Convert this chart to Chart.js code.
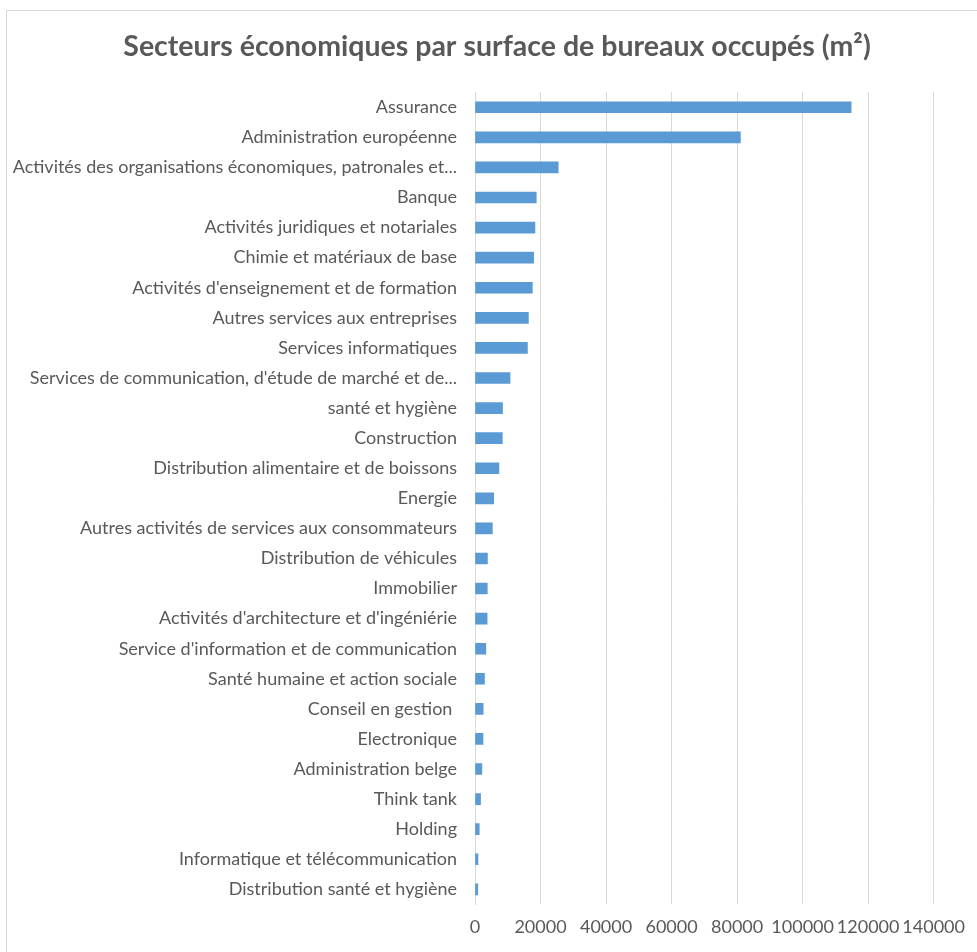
<!DOCTYPE html>
<html>
<head>
<meta charset="utf-8">
<script src="https://cdn.jsdelivr.net/npm/chart.js@4"></script>
<style>
  html, body { margin: 0; padding: 0; background: #fff; overflow: hidden; }
  #frame { position: absolute; left: 6px; top: 10px; width: 1000px; height: 1000px; border: 1px solid #d9d9d9; }
  #wrap { position: absolute; left: 0; top: 0; width: 977px; height: 952px; }
</style>
</head>
<body>
<div id="frame"></div>
<div id="wrap"><canvas id="barChart"></canvas></div>
<script>
// secteurs et surfaces (m²)
const categories = [
  'Assurance',
  'Administration européenne',
  'Activités des organisations économiques, patronales et...',
  'Banque',
  'Activités juridiques et notariales',
  'Chimie et matériaux de base',
  "Activités d'enseignement et de formation",
  'Autres services aux entreprises',
  'Services informatiques',
  "Services de communication, d'étude de marché et de...",
  'santé et hygiène',
  'Construction',
  'Distribution alimentaire et de boissons',
  'Energie',
  'Autres activités de services aux consommateurs',
  'Distribution de véhicules',
  'Immobilier',
  "Activités d'architecture et d'ingéniérie",
  "Service d'information et de communication",
  'Santé humaine et action sociale',
  'Conseil en gestion ',
  'Electronique',
  'Administration belge',
  'Think tank',
  'Holding',
  'Informatique et télécommunication',
  'Distribution santé et hygiène'
];
const surfaces = [
  114800, 81000, 25400, 18700, 18300, 17900, 17500, 16300, 16000, 10700,
  8400, 8350, 7300, 5700, 5300, 3800, 3750, 3700, 3300, 2900,
  2500, 2450, 2100, 1700, 1300, 900, 850
];
const xTicks = [0, 20000, 40000, 60000, 80000, 100000, 120000, 140000];

const ctx = document.getElementById('barChart').getContext('2d');

// le titre est centré sur toute la largeur du cadre, pas sur la zone du graphique
const titleShift = {
  id: 'titleShift',
  afterLayout(chart) {
    if (chart.titleBlock) {
      chart.titleBlock.left = 17;
      chart.titleBlock.right = 977;
    }
  }
};

new Chart(ctx, {
  type: 'bar',
  data: {
    labels: categories,
    datasets: [{
      label: 'Surface',
      data: surfaces,
      backgroundColor: '#5b9bd5',
      barThickness: 11
    }]
  },
  options: {
    indexAxis: 'y',
    responsive: true,
    maintainAspectRatio: false,
    animation: false,
    layout: { padding: { top: 10, right: 36, bottom: 2, left: 0 } },
    scales: {
      x: {
        min: 0,
        max: 140000,
        afterBuildTicks: function(scale) {
          scale.ticks = xTicks.map(v => ({ value: v }));
        },
        ticks: {
          color: '#595959',
          font: { family: 'Lato', size: 18 },
          padding: 12,
          maxRotation: 0,
          autoSkip: false,
          callback: function(value) { return String(value); }
        },
        grid: { color: '#d9d9d9', drawTicks: false },
        border: { display: false }
      },
      y: {
        afterFit: function(scale) { scale.width = 475; },
        ticks: {
          color: '#595959',
          font: { family: 'Lato', size: 18 },
          padding: 18,
          autoSkip: false
        },
        grid: { display: false, drawTicks: false },
        border: { color: '#d9d9d9', width: 1 }
      }
    },
    plugins: {
      legend: { display: false },
      tooltip: { enabled: true },
      title: {
        display: true,
        text: 'Secteurs économiques par surface de bureaux occupés (m²)',
        color: '#595959',
        font: { family: 'Lato', size: 28.5, weight: 'bold' },
        padding: { top: 20, bottom: 28 }
      }
    }
  },
  plugins: [titleShift]
});
</script>
</body>
</html>
